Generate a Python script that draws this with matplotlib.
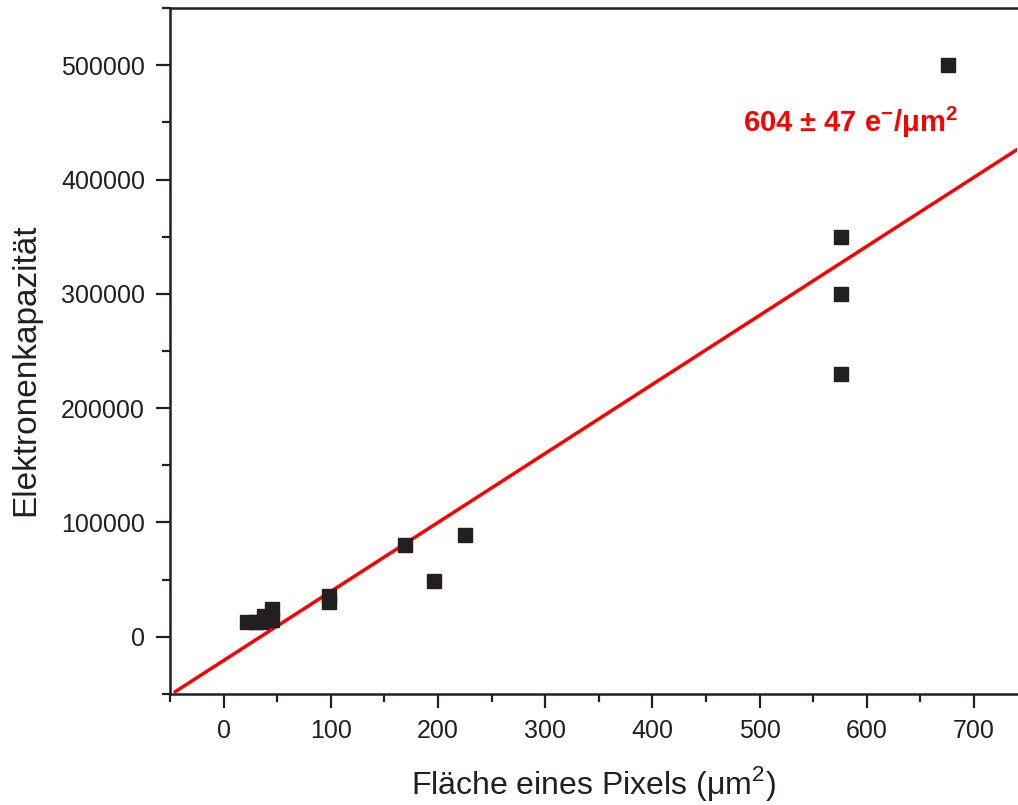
import matplotlib
matplotlib.use("Agg")
import matplotlib.pyplot as plt
import numpy as np
from matplotlib.ticker import MultipleLocator

plt.rcParams['font.family'] = ['Liberation Sans', 'DejaVu Sans']
plt.rcParams['mathtext.fontset'] = 'custom'
plt.rcParams['mathtext.rm'] = 'Liberation Sans'
plt.rcParams['mathtext.bf'] = 'Liberation Sans:bold'

# Data: pixel area (um^2) vs electron capacity
area = [22, 30, 36, 38, 45, 45, 98, 98, 169, 196, 225, 576, 576, 576, 676]
capacity = [12500, 12500, 12500, 18000, 24500, 15000, 36000, 30000, 80000, 49000, 89000, 350000, 300000, 229500, 500000]

fit_slope = 604
fit_intercept = -20800
fit_x = [-45, 740]

fig = plt.figure(figsize=(10.18, 8.05), dpi=100)
ax = fig.add_axes([0.167, 0.138, 0.832, 0.852])

ax.plot(area, capacity, 's', color='#231f20', markersize=10, zorder=3)
fx = np.array(fit_x)
ax.plot(fx, fit_slope * fx + fit_intercept, color='#ff0000', lw=2.5, zorder=2)

ax.set_xlim(-50, 740)
ax.set_ylim(-50000, 550000)
ax.xaxis.set_major_locator(MultipleLocator(100))
ax.xaxis.set_minor_locator(MultipleLocator(50))
ax.yaxis.set_major_locator(MultipleLocator(100000))
ax.yaxis.set_minor_locator(MultipleLocator(50000))

ax.tick_params(axis='both', which='major', direction='out', length=10, width=1.6,
               labelsize=18, colors='#231f20', pad=8)
ax.tick_params(axis='both', which='minor', direction='out', length=5.5, width=1.6,
               colors='#231f20')
ax.tick_params(top=False, right=False, which='both')

for s in ax.spines.values():
    s.set_linewidth(1.8)
    s.set_color('#231f20')
ax.spines['right'].set_visible(False)

ax.set_xlabel('Fläche eines Pixels (\u03bcm$^{\\mathregular{2}}$)', fontsize=23, color='#231f20', labelpad=15)
ax.set_ylabel('Elektronenkapazität', fontsize=24, color='#231f20', labelpad=14)
ax.yaxis.label.set_y(0.472)

ax.text(0.677, 0.834, '604 ± 47 e$^{\\mathregular{-}}$/\u03bcm$^{\\mathregular{2}}$',
        transform=ax.transAxes, color='#ff0000', fontsize=21, fontweight='bold',
        ha='left', va='center')

fig.savefig('out.png', dpi=100)
